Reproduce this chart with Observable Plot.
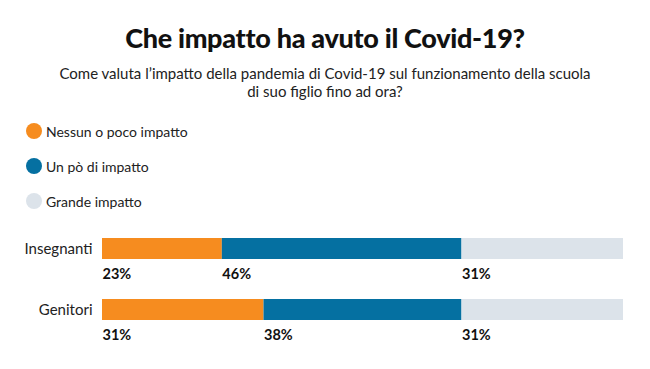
<!DOCTYPE html>
<html><head><meta charset="utf-8">
<script src="https://cdn.jsdelivr.net/npm/d3@7"></script>
<script src="https://cdn.jsdelivr.net/npm/@observablehq/plot@0.6"></script>
<style>
body{margin:0;background:#fff;font-family:Lato,"Open Sans",sans-serif;}
#wrap{position:relative;width:650px;height:369px;overflow:hidden;}
#title{position:absolute;top:21px;left:0;width:650px;text-align:center;font-size:27px;font-weight:900;color:#111;letter-spacing:-0.3px;}
#sub{position:absolute;top:64px;left:0;width:650px;text-align:center;font-size:15px;line-height:18px;color:#222;}
.leg{position:absolute;left:26px;font-size:14px;color:#222;display:flex;align-items:center;height:18px;}
.leg span.dot{width:16px;height:16px;border-radius:50%;display:inline-block;margin-right:4px;}
#chart{position:absolute;top:220px;left:0;}
</style></head><body>
<div id="wrap">
<div id="title">Che impatto ha avuto il Covid-19?</div>
<div id="sub">Come valuta l’impatto della pandemia di Covid-19 sul funzionamento della scuola<br>di suo figlio fino ad ora?</div>
<div id="legend"></div>
<div id="chart"></div>
</div>
<script>
const groups = ["Insegnanti", "Genitori"];
const categories = ["Nessun o poco impatto", "Un pò di impatto", "Grande impatto"];
const colors = ["#f68c1f", "#0570a1", "#dce3ea"];
const insegnanti = [23, 46, 31];
const genitori = [31, 38, 31];

const series = [insegnanti, genitori];
const data = [];
groups.forEach((g, gi) => {
  let acc = 0;
  categories.forEach((c, ci) => {
    const v = series[gi][ci];
    data.push({group: g, cat: c, x1: acc, x2: acc + v, value: v});
    acc += v;
  });
});

const legend = document.getElementById("legend");
categories.forEach((c, i) => {
  const d = document.createElement("div");
  d.className = "leg";
  d.style.top = (122 + i * 35) + "px";
  d.innerHTML = `<span class="dot" style="background:${colors[i]}"></span>${c}`;
  legend.appendChild(d);
});

const chart = Plot.plot({
  width: 650,
  height: 149,
  marginLeft: 102,
  marginRight: 27,
  marginTop: 0,
  marginBottom: 0,
  style: {fontFamily: "Lato, 'Open Sans', sans-serif", background: "#fff"},
  x: {domain: [0, 100], axis: null},
  y: {domain: groups, range: [17, 100], paddingInner: 41 / 62, paddingOuter: 0},
  color: {domain: categories, range: colors},
  marks: [
    Plot.barX(data, {x1: "x1", x2: "x2", y: "group", fill: "cat"}),
    Plot.text(data, {x: "x1", y: "group", text: d => d.value + "%", textAnchor: "start", lineAnchor: "middle", dy: 25, fontSize: 14.5, fontWeight: "bold", fill: "#111"}),
    Plot.axisY({tickSize: 0, tickPadding: 10, fontSize: 15, color: "#222", label: null})
  ]
});
document.getElementById("chart").appendChild(chart);
</script>
</body></html>
